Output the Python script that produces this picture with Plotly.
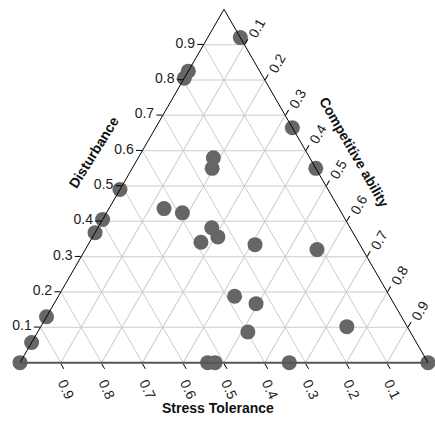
import plotly.graph_objects as go

# Ternary components of each point
disturbance = [0.92, 0.805, 0.825, 0.665, 0.58, 0.55, 0.55, 0.436, 0.424, 0.382, 0.356, 0.341,
               0.334, 0.32, 0.49, 0.405, 0.368, 0.188, 0.167, 0.102, 0.087, 0.0, 0.0, 0.0,
               0.0, 0.13, 0.057, 0.0]
stress_tolerance = [0.0, 0.195, 0.175, 0.0, 0.236, 0.254, 0.0, 0.429, 0.39, 0.339, 0.337, 0.386,
                    0.257, 0.112, 0.51, 0.595, 0.632, 0.38, 0.338, 0.148, 0.398, 0.54, 0.522, 0.34,
                    0.0, 0.87, 0.943, 1.0]
competitive = [0.08, 0.0, 0.0, 0.335, 0.184, 0.196, 0.45, 0.135, 0.186, 0.279, 0.307, 0.273,
               0.409, 0.568, 0.0, 0.0, 0.0, 0.432, 0.495, 0.75, 0.515, 0.46, 0.478, 0.66,
               1.0, 0.0, 0.0, 0.0]

tick_vals = [0.1, 0.2, 0.3, 0.4, 0.5, 0.6, 0.7, 0.8, 0.9]
tick_text = ["0.1", "0.2", "0.3", "0.4", "0.5", "0.6", "0.7", "0.8", "0.9"]

fig = go.Figure()
fig.add_trace(go.Scatterternary(
    a=disturbance, b=stress_tolerance, c=competitive,
    mode="markers",
    cliponaxis=False,
    marker=dict(size=15, color="#666666", line=dict(width=0)),
    showlegend=False,
))

tickfont = dict(family="Liberation Sans, Arial", size=14, color="#222222")
axis_common = dict(
    tickmode="array", tickvals=tick_vals, ticktext=tick_text,
    showgrid=True, gridcolor="#cccccc", gridwidth=1,
    ticks="outside", ticklen=6, tickcolor="#000000",
    tickfont=tickfont, title=dict(text=""), showline=True,
)

title_font = dict(family="Liberation Sans, Arial", size=14, color="#111111")

fig.update_layout(
    width=435, height=421,
    margin=dict(l=20, r=7, t=9, b=58),
    paper_bgcolor="white", plot_bgcolor="white",
    ternary=dict(
        sum=1,
        bgcolor="white",
        aaxis=dict(**axis_common, tickangle=0, linecolor="#000000", linewidth=1),
        baxis=dict(**axis_common, tickangle=65, linecolor="#555555", linewidth=2),
        caxis=dict(**axis_common, tickangle=-60, linecolor="#000000", linewidth=1),
    ),
    annotations=[
        dict(text="<b>Disturbance</b>", x=0.181, y=0.596, xref="paper", yref="paper",
             xanchor="center", yanchor="middle",
             showarrow=False, textangle=-58, font=title_font),
        dict(text="<b>Competitive ability</b>", x=0.819, y=0.596, xref="paper", yref="paper",
             xanchor="center", yanchor="middle",
             showarrow=False, textangle=60, font=title_font),
        dict(text="<b>Stress Tolerance</b>", x=0.485, y=-0.127, xref="paper", yref="paper",
             xanchor="center", yanchor="middle",
             showarrow=False, textangle=0, font=title_font),
    ],
)

fig.write_html("out.html")
